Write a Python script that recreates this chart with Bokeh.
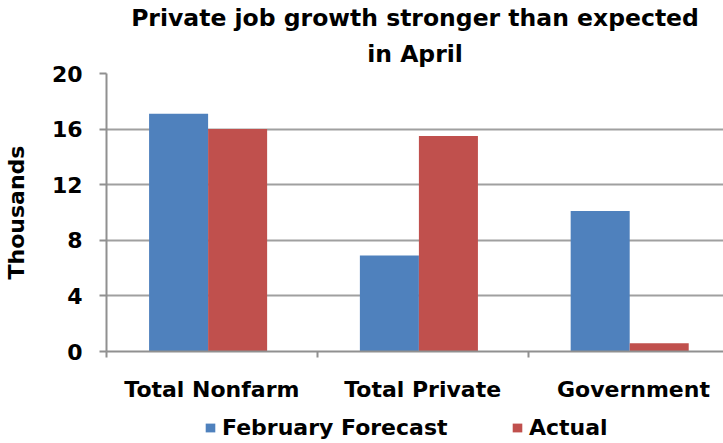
from bokeh.plotting import figure
from bokeh.layouts import column
from bokeh.models import ColumnDataSource, FixedTicker, Range1d, Legend, LegendItem, Title
from bokeh.embed import file_html
from bokeh.resources import INLINE

categories = ["Total Nonfarm", "Total Private", "Government"]
forecast = [17.1, 6.9, 10.1]
actual = [16.0, 15.5, 0.6]
y_ticks = [0, 4, 8, 12, 16, 20]
series_names = ["February Forecast", "Actual"]
title_lines = ["Private job growth stronger than expected", "in April"]

FONT = "DejaVu Sans"
BLUE = "#4F81BD"
RED = "#C0504D"
GRID = "#a0a0a0"
AXIS = "#909090"
FS = "22px"

idx = list(range(len(categories)))
centers = [i + 0.5 for i in idx]
bw = 0.28
shift = -0.018
src = ColumnDataSource(dict(
    xf=[c - bw / 2 + shift for c in centers],
    xa=[c + bw / 2 + shift for c in centers],
    f=forecast, a=actual,
))

p = figure(width=723, height=410, output_backend="svg", toolbar_location=None,
           x_range=Range1d(0, 2.927), y_range=Range1d(0, 20),
           min_border_left=104, min_border_right=0, min_border_top=73, min_border_bottom=59)
p.outline_line_color = None
p.background_fill_color = "white"

p.vbar(x="xf", top="f", width=bw, source=src, fill_color=BLUE, line_color=None)
p.vbar(x="xa", top="a", width=bw, source=src, fill_color=RED, line_color=None)

# titles (two centred lines)
t2 = Title(text=title_lines[1], text_font=FONT, text_font_size="23.5px", text_font_style="bold",
           align="center", text_color="black", standoff=12, text_line_height=0.75)
t1 = Title(text=title_lines[0], text_font=FONT, text_font_size="23.5px",
           text_font_style="bold", align="center", text_color="black", standoff=0,
           text_line_height=0.75)
p.add_layout(t2, "above")
p.add_layout(t1, "above")

# y axis
ya = p.yaxis[0]
ya.ticker = FixedTicker(ticks=y_ticks)
ya.axis_line_color = AXIS
ya.axis_line_width = 2
ya.major_tick_line_color = AXIS
ya.major_tick_line_width = 2
ya.major_tick_out = 7
ya.major_tick_in = 0
ya.minor_tick_line_color = None
ya.major_label_text_font = FONT
ya.major_label_text_font_size = FS
ya.major_label_text_font_style = "bold"
ya.major_label_text_color = "black"
ya.major_label_standoff = 17
ya.axis_label = "Thousands"
ya.axis_label_text_font = FONT
ya.axis_label_text_font_size = FS
ya.axis_label_text_font_style = "bold"
ya.axis_label_text_color = "black"
ya.axis_label_standoff = 20

# x axis
xa = p.xaxis[0]
xa.ticker = FixedTicker(ticks=centers, minor_ticks=[0, 1, 2, 3])
xa.major_label_overrides = {c: categories[i] for i, c in enumerate(centers)}
xa.axis_line_color = AXIS
xa.axis_line_width = 2
xa.major_tick_line_color = None
xa.major_tick_out = 6
xa.minor_tick_line_color = AXIS
xa.minor_tick_line_width = 2
xa.minor_tick_out = 6
xa.minor_tick_in = 0
xa.major_label_text_font = FONT
xa.major_label_text_font_size = FS
xa.major_label_text_font_style = "bold"
xa.major_label_text_color = "black"
xa.major_label_standoff = 19

p.xgrid.grid_line_color = None
p.ygrid.ticker = FixedTicker(ticks=y_ticks[1:])
p.ygrid.grid_line_color = GRID
p.ygrid.grid_line_width = 2

# legend strip (same series, plotted out of view so only the legend shows)
lg = figure(width=723, height=33, output_backend="svg", toolbar_location=None,
            x_range=Range1d(0, 2.927), y_range=Range1d(100, 101),
            x_axis_location=None, y_axis_location=None,
            min_border=0, min_border_left=0, min_border_right=0, min_border_top=0, min_border_bottom=0)
lg.outline_line_color = None
lg.grid.visible = False
rf = lg.vbar(x="xf", top="f", width=bw, source=src, fill_color=BLUE, line_color=None)
ra = lg.vbar(x="xa", top="a", width=bw, source=src, fill_color=RED, line_color=None)

for name, r, loc in [(series_names[0], rf, (98, 3)), (series_names[1], ra, (405, 3))]:
    leg = Legend(items=[LegendItem(label=name, renderers=[r])],
                 orientation="horizontal", location=loc,
                 label_text_font=FONT, label_text_font_size=FS, label_text_font_style="bold",
                 label_text_color="black", glyph_width=12, glyph_height=11,
                 label_standoff=6, padding=0, margin=0, label_height=24,
                 border_line_color=None, background_fill_alpha=0)
    lg.add_layout(leg, "center")

layout = column(p, lg, spacing=0)
open("out.html", "w").write(file_html(layout, INLINE))
